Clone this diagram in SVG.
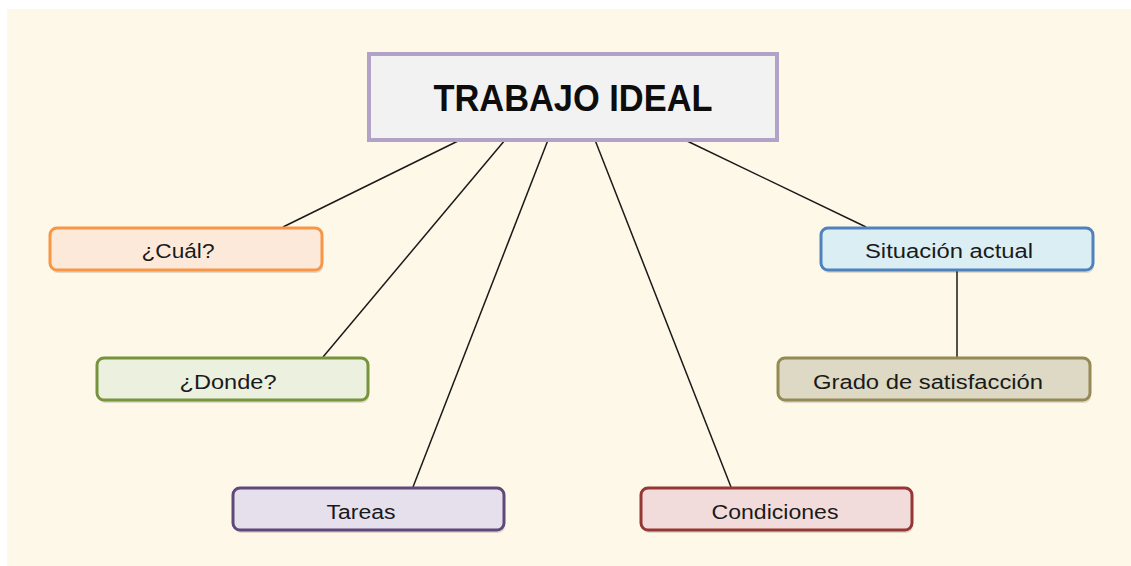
<svg xmlns="http://www.w3.org/2000/svg" width="1131" height="566" viewBox="0 0 1131 566">
<style>
.lbl{font-family:"Liberation Sans",Arial,sans-serif;font-size:20px;fill:#1a1a1a;text-anchor:middle}
.title{font-family:"Liberation Sans",Arial,sans-serif;font-size:37px;font-weight:bold;fill:#0d0d0d;text-anchor:middle}
.sh{fill:#000;opacity:0.12}
.con line{stroke:#1a1a1a;stroke-width:1.5}
</style>
<rect x="0" y="0" width="1131" height="566" fill="#ffffff"/>
<rect x="7" y="9" width="1124" height="557" fill="#fef8e8"/>
<g class="con">
<line x1="460" y1="140" x2="283" y2="227"/>
<line x1="505" y1="140" x2="323" y2="357"/>
<line x1="548" y1="140" x2="413" y2="487"/>
<line x1="595" y1="140" x2="731" y2="487"/>
<line x1="685" y1="140" x2="866" y2="227"/>
<line x1="957" y1="270" x2="957" y2="357"/>
</g>
<g id="main">
<rect x="369" y="54" width="408" height="86" class="sh" transform="translate(1,2)"/>
<rect x="369" y="54" width="408" height="86" fill="#f2f2f2" stroke="#b3a2c7" stroke-width="4"/>
<text x="573" y="111" class="title" textLength="279" lengthAdjust="spacingAndGlyphs">TRABAJO IDEAL</text>
</g>
<g id="cual">
<rect x="50" y="228" width="272" height="42" rx="7" class="sh" transform="translate(1,3)"/>
<rect x="50" y="228" width="272" height="42" rx="7" fill="#fde9d9" stroke="#f79646" stroke-width="3"/>
<text x="178" y="258" class="lbl" textLength="73" lengthAdjust="spacingAndGlyphs">¿Cuál?</text>
</g>
<g id="donde">
<rect x="97" y="358" width="271" height="42" rx="7" class="sh" transform="translate(1,3)"/>
<rect x="97" y="358" width="271" height="42" rx="7" fill="#ebf1de" stroke="#77933c" stroke-width="3"/>
<text x="228" y="389" class="lbl" textLength="97" lengthAdjust="spacingAndGlyphs">¿Donde?</text>
</g>
<g id="tareas">
<rect x="233" y="488" width="271" height="42" rx="7" class="sh" transform="translate(1,3)"/>
<rect x="233" y="488" width="271" height="42" rx="7" fill="#e5e0ec" stroke="#5f497a" stroke-width="3"/>
<text x="361" y="519" class="lbl" textLength="69" lengthAdjust="spacingAndGlyphs">Tareas</text>
</g>
<g id="condiciones">
<rect x="641" y="488" width="271" height="42" rx="7" class="sh" transform="translate(1,3)"/>
<rect x="641" y="488" width="271" height="42" rx="7" fill="#f2dcdb" stroke="#953735" stroke-width="3"/>
<text x="775" y="519" class="lbl" textLength="127" lengthAdjust="spacingAndGlyphs">Condiciones</text>
</g>
<g id="situacion">
<rect x="821" y="228" width="272" height="42" rx="7" class="sh" transform="translate(1,3)"/>
<rect x="821" y="228" width="272" height="42" rx="7" fill="#dbeef4" stroke="#4f81bd" stroke-width="3"/>
<text x="949" y="258" class="lbl" textLength="168" lengthAdjust="spacingAndGlyphs">Situación actual</text>
</g>
<g id="grado">
<rect x="778" y="358" width="312" height="42" rx="7" class="sh" transform="translate(1,3)"/>
<rect x="778" y="358" width="312" height="42" rx="7" fill="#ddd9c4" stroke="#948a54" stroke-width="3"/>
<text x="928" y="389" class="lbl" textLength="230" lengthAdjust="spacingAndGlyphs">Grado de satisfacción</text>
</g>
</svg>
